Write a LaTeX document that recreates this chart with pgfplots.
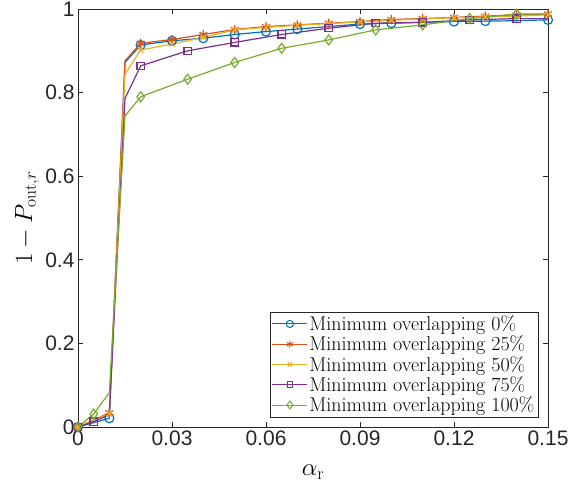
\documentclass[border=0pt]{standalone}
\usepackage{fontspec}
\usepackage{pgfplots}
\pgfplotsset{compat=1.18}
\newfontfamily\tickfont{Liberation Sans}

\definecolor{mblue}{RGB}{0,114,189}
\definecolor{morange}{RGB}{217,83,25}
\definecolor{myellow}{RGB}{237,177,32}
\definecolor{mpurple}{RGB}{126,47,142}
\definecolor{mgreen}{RGB}{119,172,48}
\definecolor{axgray}{RGB}{38,38,38}

\begin{document}
\begin{tikzpicture}
\useasboundingbox (-78pt,-59pt) rectangle (508pt,427pt);
\begin{axis}[
scale only axis,
width=470pt, height=418pt,
xmin=0, xmax=0.15,
ymin=0, ymax=1,
xtick={0,0.03,0.06,0.09,0.12,0.15},
ytick={0,0.2,0.4,0.6,0.8,1},
scaled x ticks=false,
xticklabel style={/pgf/number format/fixed, /pgf/number format/precision=2},
yticklabel style={/pgf/number format/fixed, /pgf/number format/precision=1},
/pgf/number format/assume math mode=true,
tick label style={font=\tickfont\fontsize{21}{21}\selectfont, text=axgray},
tick align=inside,
tick pos=both,
major tick length=5pt,
axis line style={axgray, line width=0.6pt},
every tick/.style={axgray, line width=0.6pt},
xlabel={$\alpha_{\mathrm{r}}$},
ylabel={$1-P_{\mathrm{out},r}$},
label style={font=\fontsize{25}{25}\selectfont},
xlabel style={at={(axis description cs:0.5,-0.108)}, anchor=center},
ylabel style={at={(axis description cs:-0.108,0.5)}, anchor=center},
legend style={
  at={(1,0)}, anchor=south east, xshift=-10pt, yshift=10pt,
  font=\fontsize{20}{20}\selectfont,
  draw=axgray, fill=white,
  inner xsep=2pt, inner ysep=2pt,
  row sep=0.8pt,
  nodes={inner sep=1.5pt},
},
legend cell align=left,
legend image code/.code={
  \draw[mark=none, line width=1pt] (0pt,0pt) -- (35pt,0pt);
  \draw[line width=1pt, every mark/.append style={scale=0.8}] plot coordinates {(17.5pt,0pt)};
},
every axis plot/.append style={line width=1.2pt},
]
\addplot [mblue, mark=o, mark size=4.5pt, mark indices={1,2,4,5,6,7,8,9,11,12,14,15,17}]
coordinates {
(0,0) (0.01,0.021) (0.015,0.872) (0.02,0.914) (0.03,0.924) (0.04,0.930)
(0.05,0.939) (0.06,0.946) (0.07,0.952) (0.08,0.958) (0.09,0.964) (0.10,0.966)
(0.11,0.968) (0.12,0.970) (0.13,0.971) (0.14,0.972) (0.15,0.974)
};
\addlegendentry{Minimum overlapping 0\%}
\addplot [morange, mark=asterisk, mark size=4.5pt, mark indices={1,2,4,5,6,7,8,9,10,11,12,13,14,15,16,17}]
coordinates {
(0,0) (0.01,0.034) (0.015,0.876) (0.02,0.918) (0.03,0.927) (0.04,0.939)
(0.05,0.951) (0.06,0.958) (0.07,0.962) (0.08,0.966) (0.09,0.970) (0.10,0.975)
(0.11,0.977) (0.12,0.980) (0.13,0.983) (0.14,0.986) (0.15,0.988)
};
\addlegendentry{Minimum overlapping 25\%}
\addplot [myellow, mark=x, mark size=4pt, mark indices={1,2,4,5,6,7,8,9,10,11,12,13,14,15,16,17}]
coordinates {
(0,0) (0.01,0.032) (0.015,0.844) (0.02,0.902) (0.03,0.916) (0.04,0.932)
(0.05,0.950) (0.06,0.956) (0.07,0.961) (0.08,0.965) (0.09,0.969) (0.10,0.973)
(0.11,0.976) (0.12,0.979) (0.13,0.981) (0.14,0.983) (0.15,0.986)
};
\addlegendentry{Minimum overlapping 50\%}
\addplot [mpurple, mark=square, mark size=3.6pt, mark indices={1,2,5,6,7,8,9,10,11,12,13}]
coordinates {
(0,0) (0.005,0.013) (0.01,0.029) (0.015,0.786) (0.02,0.864) (0.035,0.900)
(0.05,0.920) (0.065,0.939) (0.08,0.954) (0.095,0.966) (0.11,0.968)
(0.125,0.974) (0.14,0.977) (0.15,0.977)
};
\addlegendentry{Minimum overlapping 75\%}
\addplot [mgreen, mark=diamond, mark size=5pt, mark indices={1,2,5,6,7,8,9,10,11,12,13}]
coordinates {
(0,0) (0.005,0.031) (0.01,0.082) (0.015,0.744) (0.02,0.790) (0.035,0.832)
(0.05,0.872) (0.065,0.906) (0.08,0.926) (0.095,0.950) (0.11,0.962)
(0.125,0.977) (0.14,0.988) (0.15,0.988)
};
\addlegendentry{Minimum overlapping 100\%}
\end{axis}
\end{tikzpicture}
\end{document}
